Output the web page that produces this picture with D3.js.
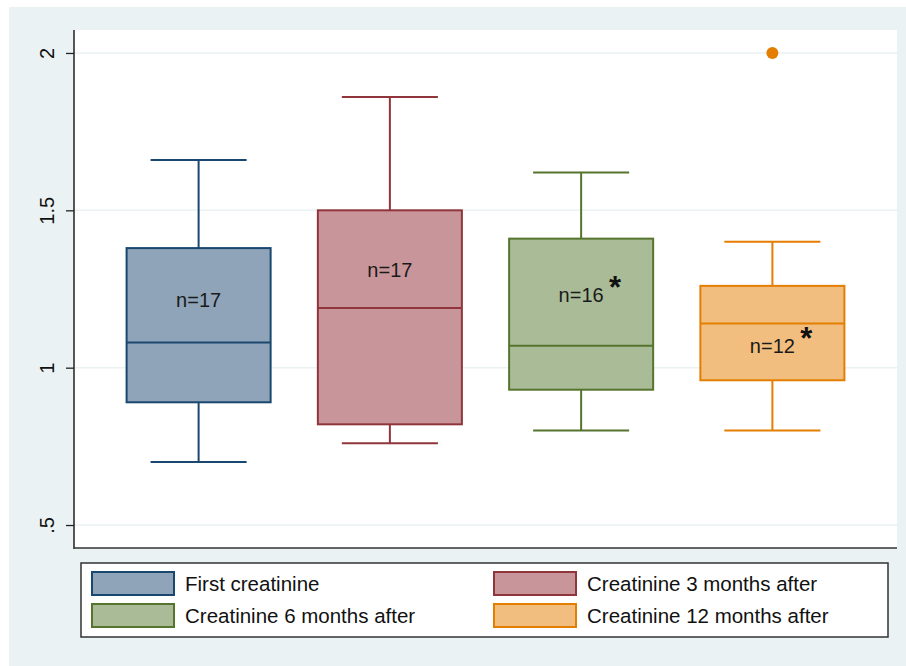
<!DOCTYPE html>
<html>
<head>
<meta charset="utf-8">
<script src="https://cdn.jsdelivr.net/npm/d3@7"></script>
<style>
  body { margin: 0; background: #fff; }
  svg { display: block; font-family: "Liberation Sans", Arial, sans-serif; }
</style>
</head>
<body>
<svg id="chart" width="906" height="666"></svg>
<script>
// box summaries
const categories = ['First creatinine', 'Creatinine 3 months after', 'Creatinine 6 months after', 'Creatinine 12 months after'];
const lowerWhisker = [0.70, 0.76, 0.80, 0.80];
const q1 = [0.89, 0.82, 0.93, 0.96];
const median = [1.08, 1.19, 1.07, 1.14];
const q3 = [1.38, 1.50, 1.41, 1.26];
const upperWhisker = [1.66, 1.86, 1.62, 1.40];
const outliers = [[], [], [], [2.0]];
const counts = [17, 17, 16, 12];
const starred = [false, false, true, true];
const yTicks = [0.5, 1, 1.5, 2];
const yTickLabels = ['.5', '1', '1.5', '2'];

// where the n= labels sit (in data units)
const labelAt = [1.215, 1.31, 1.231, 1.069];

const colors = [
  { line: '#1A476F', fill: '#8FA4B9' },
  { line: '#90353B', fill: '#C8969A' },
  { line: '#55752F', fill: '#AABB97' },
  { line: '#E37E00', fill: '#F2BE7F' }
];

const svg = d3.select('#chart');
const plot = { left: 74, top: 30, right: 897, bottom: 548 };

svg.append('rect')
  .attr('x', 9).attr('y', 7)
  .attr('width', 906 - 9).attr('height', 666 - 7)
  .style('fill', '#EAF2F3');

svg.append('rect')
  .attr('x', plot.left).attr('y', plot.top)
  .attr('width', plot.right - plot.left).attr('height', plot.bottom - plot.top)
  .style('fill', '#fff');

const x = d3.scaleBand()
  .domain(categories)
  .range([plot.left, plot.right])
  .paddingInner(0.247)
  .paddingOuter(0.275);

const y = d3.scaleLinear()
  .domain([0.427, 2.073])
  .range([plot.bottom, plot.top]);

// grid
svg.append('g')
  .selectAll('line')
  .data(yTicks)
  .enter()
  .append('line')
  .attr('x1', plot.left).attr('x2', plot.right)
  .attr('y1', d => y(d)).attr('y2', d => y(d))
  .style('stroke', '#EAF2F3')
  .style('stroke-width', 1.5);

// y axis
const yAxis = svg.append('g')
  .attr('transform', `translate(${plot.left},0)`)
  .call(d3.axisLeft(y).tickValues(yTicks).tickSize(8).tickPadding(0)
    .tickFormat((d, i) => yTickLabels[i]));

yAxis.select('.domain').remove();
yAxis.selectAll('.tick line').style('stroke', '#222').style('stroke-width', 1.3);
yAxis.selectAll('.tick text')
  .attr('x', 0).attr('dy', 0)
  .attr('transform', 'translate(-27,0) rotate(-90)')
  .attr('text-anchor', 'middle')
  .attr('dominant-baseline', 'central')
  .style('font-size', '20px')
  .style('font-family', '"Liberation Sans", Arial, sans-serif')
  .style('fill', '#111');

svg.append('line')
  .attr('x1', plot.left).attr('x2', plot.left)
  .attr('y1', plot.top).attr('y2', plot.bottom + 1)
  .style('stroke', '#222').style('stroke-width', 1.5);

svg.append('line')
  .attr('x1', plot.left).attr('x2', plot.right)
  .attr('y1', plot.bottom).attr('y2', plot.bottom)
  .style('stroke', '#333').style('stroke-width', 1.5);

// boxes
const boxes = categories.map((c, i) => ({
  key: c, lo: lowerWhisker[i], q1: q1[i], med: median[i], q3: q3[i], hi: upperWhisker[i],
  out: outliers[i], n: counts[i], star: starred[i], at: labelAt[i], color: colors[i]
}));

const bw = x.bandwidth();
const capW = bw * 0.667;

const g = svg.append('g').selectAll('.box')
  .data(boxes)
  .enter()
  .append('g')
  .classed('box', true)
  .attr('transform', d => `translate(${x(d.key) + bw / 2},0)`);

g.append('line')
  .attr('x1', 0).attr('x2', 0)
  .attr('y1', d => y(d.hi)).attr('y2', d => y(d.q3))
  .style('stroke', d => d.color.line).style('stroke-width', 2);

g.append('line')
  .attr('x1', 0).attr('x2', 0)
  .attr('y1', d => y(d.q1)).attr('y2', d => y(d.lo))
  .style('stroke', d => d.color.line).style('stroke-width', 2);

g.selectAll('.cap')
  .data(d => [d.hi, d.lo].map(v => ({ v, color: d.color })))
  .enter()
  .append('line')
  .attr('x1', -capW / 2).attr('x2', capW / 2)
  .attr('y1', d => y(d.v)).attr('y2', d => y(d.v))
  .style('stroke', d => d.color.line).style('stroke-width', 2);

g.append('rect')
  .attr('x', -bw / 2)
  .attr('width', bw)
  .attr('y', d => y(d.q3))
  .attr('height', d => y(d.q1) - y(d.q3))
  .style('fill', d => d.color.fill)
  .style('stroke', d => d.color.line)
  .style('stroke-width', 2);

g.append('line')
  .attr('x1', -bw / 2).attr('x2', bw / 2)
  .attr('y1', d => y(d.med)).attr('y2', d => y(d.med))
  .style('stroke', d => d.color.line).style('stroke-width', 2);

g.selectAll('.outlier')
  .data(d => d.out.map(v => ({ v, color: d.color })))
  .enter()
  .append('circle')
  .attr('cy', d => y(d.v))
  .attr('r', 6)
  .style('fill', d => d.color.line);

g.append('text')
  .text(d => 'n=' + d.n)
  .attr('y', d => y(d.at))
  .attr('dy', '0.36em')
  .attr('text-anchor', 'middle')
  .style('font-size', '20px')
  .style('fill', '#1a1a1a');

g.filter(d => d.star)
  .append('text')
  .text('*')
  .attr('x', 34)
  .attr('y', d => y(d.at) + 3)
  .attr('text-anchor', 'middle')
  .style('font-size', '31px')
  .style('font-weight', 'bold')
  .style('fill', '#111');

// legend
const legend = svg.append('g');
legend.append('rect')
  .attr('x', 81).attr('y', 563)
  .attr('width', 807).attr('height', 74)
  .style('fill', '#fff')
  .style('stroke', '#333')
  .style('stroke-width', 1.5);

const items = legend.selectAll('.item')
  .data(boxes)
  .enter()
  .append('g')
  .classed('item', true)
  .attr('transform', (d, i) => `translate(${i % 2 ? 494 : 92},${i < 2 ? 572 : 604})`);

items.append('rect')
  .attr('width', 82).attr('height', 23)
  .style('fill', d => d.color.fill)
  .style('stroke', d => d.color.line)
  .style('stroke-width', 2);

items.append('text')
  .text(d => d.key)
  .attr('x', 93)
  .attr('y', 11.5)
  .attr('dy', '0.36em')
  .style('font-size', '20.5px')
  .style('fill', '#111');
</script>
</body>
</html>
